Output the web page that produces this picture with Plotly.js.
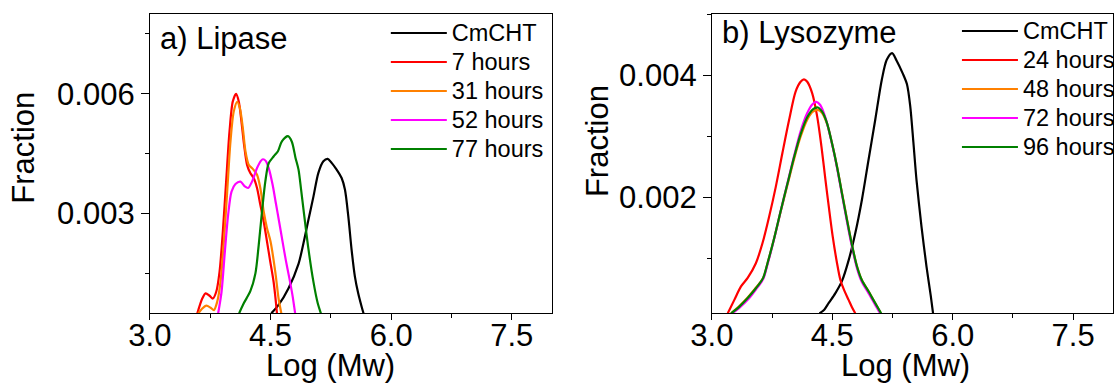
<!DOCTYPE html>
<html>
<head>
<meta charset="utf-8">
<script src="https://cdn.plot.ly/plotly-3.0.1.min.js"></script>
<style>html,body{margin:0;padding:0;background:#fff;}#chart{width:1120px;height:383px;}</style>
</head>
<body>
<div id="chart"></div>
<script>
// ---------- Panel a) Lipase ----------
var lipCmX = [4.51, 4.6, 4.724, 4.848, 4.91, 4.972, 5.034, 5.095, 5.157, 5.211, 5.26, 5.322, 5.384, 5.425, 5.467, 5.508, 5.549, 5.59, 5.632, 5.656];
var lipCmY = [0.0005, 0.00071, 0.00113, 0.00174, 0.00226, 0.00285, 0.00343, 0.00402, 0.00431, 0.00437, 0.00427, 0.0041, 0.00389, 0.0036, 0.00293, 0.00209, 0.00142, 0.001, 0.00067, 0.0005];

var lip7X = [3.59, 3.651, 3.693, 3.742, 3.783, 3.825, 3.866, 3.907, 3.948, 3.99, 4.031, 4.072, 4.105, 4.138, 4.171, 4.208, 4.25, 4.291, 4.332, 4.373, 4.415, 4.456, 4.497, 4.538, 4.562, 4.58];
var lip7Y = [0.0005, 0.00087, 0.001, 0.00094, 0.00087, 0.00104, 0.00154, 0.00255, 0.0038, 0.00506, 0.00581, 0.006, 0.00581, 0.00531, 0.00472, 0.00422, 0.00401, 0.00389, 0.00364, 0.00322, 0.0028, 0.0023, 0.00179, 0.00129, 0.00087, 0.0005];

var lip31X = [3.602, 3.651, 3.701, 3.755, 3.796, 3.837, 3.878, 3.92, 3.961, 4.002, 4.043, 4.085, 4.118, 4.155, 4.188, 4.229, 4.279, 4.332, 4.373, 4.415, 4.456, 4.5, 4.559, 4.6, 4.634];
var lip31Y = [0.0005, 0.00062, 0.00069, 0.00064, 0.00058, 0.00079, 0.00129, 0.0023, 0.00355, 0.00481, 0.00556, 0.0058, 0.00565, 0.00515, 0.00456, 0.00422, 0.00412, 0.00397, 0.00364, 0.00305, 0.00263, 0.0023, 0.00154, 0.00087, 0.0005];

var lip52X = [3.849, 3.891, 3.932, 3.973, 4.015, 4.064, 4.126, 4.18, 4.221, 4.27, 4.332, 4.38, 4.406, 4.44, 4.48, 4.526, 4.567, 4.609, 4.65, 4.691, 4.732, 4.773, 4.806];
var lip52Y = [0.0005, 0.00104, 0.00204, 0.00297, 0.00355, 0.00374, 0.0038, 0.00368, 0.00364, 0.0038, 0.00414, 0.00432, 0.00436, 0.00432, 0.00412, 0.00372, 0.00325, 0.00277, 0.00229, 0.00182, 0.0014, 0.00095, 0.0005];

var lip77X = [4.11, 4.167, 4.25, 4.312, 4.353, 4.394, 4.435, 4.477, 4.538, 4.592, 4.641, 4.716, 4.765, 4.81, 4.848, 4.88, 4.91, 4.972, 5.034, 5.087, 5.126];
var lip77Y = [0.0005, 0.00075, 0.00106, 0.0015, 0.00221, 0.00305, 0.0038, 0.00426, 0.00443, 0.00456, 0.00481, 0.00494, 0.0048, 0.0044, 0.0041, 0.0036, 0.0031, 0.0021, 0.00128, 0.00075, 0.0005];

// ---------- Panel b) Lysozyme ----------
var lysCmX = [4.34, 4.4, 4.456, 4.539, 4.621, 4.704, 4.786, 4.869, 4.951, 5.034, 5.116, 5.178, 5.245, 5.3, 5.38, 5.43, 5.47, 5.51, 5.549, 5.611, 5.673, 5.727, 5.755];
var lysCmY = [0.0001, 0.00016, 0.00027, 0.00043, 0.00063, 0.00097, 0.00141, 0.00196, 0.00261, 0.00326, 0.00392, 0.00425, 0.00436, 0.00424, 0.00402, 0.00385, 0.0035, 0.0029, 0.00228, 0.00152, 0.00087, 0.00038, 0.0001];

var lys24X = [3.198, 3.28, 3.363, 3.446, 3.548, 3.631, 3.713, 3.796, 3.878, 3.961, 4.043, 4.105, 4.147, 4.188, 4.25, 4.312, 4.365, 4.415, 4.456, 4.505, 4.559, 4.6, 4.65, 4.703, 4.745, 4.786];
var lys24Y = [0.0001, 0.00032, 0.00054, 0.00068, 0.00092, 0.00125, 0.00168, 0.00217, 0.00272, 0.00326, 0.00373, 0.00389, 0.00393, 0.00389, 0.0037, 0.00332, 0.00283, 0.00228, 0.00185, 0.00136, 0.00092, 0.00065, 0.00047, 0.00032, 0.0002, 0.0001];

var lys48X = [3.239, 3.342, 3.446, 3.548, 3.639, 3.693, 3.776, 3.858, 3.941, 4.023, 4.105, 4.188, 4.258, 4.32, 4.373, 4.435, 4.497, 4.559, 4.621, 4.683, 4.745, 4.807, 4.869, 4.951, 5.033, 5.105];
var lys48Y = [0.0001, 0.00022, 0.00036, 0.00052, 0.00068, 0.00092, 0.00133, 0.00177, 0.0022, 0.00262, 0.00299, 0.00327, 0.0034, 0.00343, 0.00338, 0.0032, 0.00288, 0.0025, 0.00207, 0.00164, 0.00122, 0.00087, 0.00064, 0.00046, 0.00027, 0.0001];

var lys72X = [3.25, 3.342, 3.446, 3.548, 3.639, 3.693, 3.776, 3.858, 3.941, 4.023, 4.105, 4.188, 4.25, 4.3, 4.35, 4.42, 4.497, 4.559, 4.621, 4.683, 4.745, 4.807, 4.869, 4.951, 5.033, 5.095];
var lys72Y = [0.0001, 0.00019, 0.00032, 0.00049, 0.00066, 0.0009, 0.00132, 0.00178, 0.00223, 0.00267, 0.00308, 0.00338, 0.00352, 0.00356, 0.00351, 0.00328, 0.00287, 0.00248, 0.00204, 0.0016, 0.00119, 0.00084, 0.00061, 0.00043, 0.00024, 0.0001];

var lys96X = [3.239, 3.342, 3.446, 3.548, 3.639, 3.693, 3.776, 3.858, 3.941, 4.023, 4.105, 4.188, 4.258, 4.32, 4.373, 4.435, 4.497, 4.559, 4.621, 4.683, 4.745, 4.807, 4.869, 4.951, 5.033, 5.108];
var lys96Y = [0.0001, 0.00021, 0.00035, 0.00051, 0.00068, 0.00092, 0.00133, 0.00178, 0.00222, 0.00265, 0.00303, 0.00331, 0.00344, 0.00347, 0.0034, 0.00321, 0.00288, 0.0025, 0.00206, 0.00163, 0.00122, 0.00087, 0.00064, 0.00046, 0.00027, 0.0001];

// ---------- labels ----------
var lipNames = ['CmCHT', '7 hours', '31 hours', '52 hours', '77 hours'];
var lysNames = ['CmCHT', '24 hours', '48 hours', '72 hours', '96 hours'];
var seriesColors = ['#000000', '#ff0000', '#ff8000', '#ff00ff', '#008000'];
var xTickVals = [3.0, 4.5, 6.0, 7.5];
var lipYTicks = [0.003, 0.006];
var lysYTicks = [0.002, 0.004];

var FONT = 'Liberation Sans, Arial, sans-serif';
var W = 1120, H = 383;

function nm(s) { return '<span style="font-size:23.5px">' + s + '</span>'; }

var lipData = [[lipCmX, lipCmY], [lip7X, lip7Y], [lip31X, lip31Y], [lip52X, lip52Y], [lip77X, lip77Y]];
var lysData = [[lysCmX, lysCmY], [lys24X, lys24Y], [lys48X, lys48Y], [lys72X, lys72Y], [lys96X, lys96Y]];

var traces = [];
lipData.forEach(function (d, i) {
  traces.push({
    x: d[0], y: d[1], type: 'scatter', mode: 'lines', name: nm(lipNames[i]),
    line: {color: seriesColors[i], width: 2.2, shape: 'spline', smoothing: 0.8},
    xaxis: 'x', yaxis: 'y', legend: 'legend', hoverinfo: 'skip'
  });
});
lysData.forEach(function (d, i) {
  traces.push({
    x: d[0], y: d[1], type: 'scatter', mode: 'lines', name: nm(lysNames[i]),
    line: {color: seriesColors[i], width: 2.2, shape: 'spline', smoothing: 0.8},
    xaxis: 'x2', yaxis: 'y2', legend: 'legend2', hoverinfo: 'skip'
  });
});

var yDom = [(H - 313.3) / H, (H - 14) / H];

function xAxis(dom, anchor) {
  return {
    domain: dom, anchor: anchor, range: [3, 8], tickvals: xTickVals, tickformat: '.1f',
    ticks: 'outside', ticklen: 6, tickwidth: 1, tickcolor: '#000', ticklabelstandoff: -12,
    minor: {dtick: 0.75, tick0: 0, ticks: 'outside', ticklen: 4, tickwidth: 1, tickcolor: '#000'},
    showline: true, linecolor: '#000', linewidth: 1, mirror: true,
    showgrid: false, zeroline: false,
    tickfont: {family: FONT, size: 31, color: '#000'}, title: {text: ''}
  };
}
function yAxis(range, tickv, minorDt, anchor) {
  return {
    domain: yDom, anchor: anchor, range: range, tickvals: tickv, tickformat: '.3f',
    ticks: 'outside', ticklen: 8, tickwidth: 1, tickcolor: '#000',
    minor: {dtick: minorDt, tick0: 0, ticks: 'outside', ticklen: 4, tickwidth: 1, tickcolor: '#000'},
    showline: true, linecolor: '#000', linewidth: 1, mirror: true,
    showgrid: false, zeroline: false,
    tickfont: {family: FONT, size: 31, color: '#000'}, title: {text: ''}
  };
}

function legendAt(px, py) {
  return {
    x: px / W, xanchor: 'left', y: 1 - py / H, yanchor: 'top',
    font: {family: FONT, size: 20, color: '#000'},
    bgcolor: 'rgba(0,0,0,0)', borderwidth: 0, itemwidth: 56,
    tracegroupgap: 0, traceorder: 'normal'
  };
}

function ann(text, px, py, size, xa, angle) {
  return {
    text: text, x: px / W, y: 1 - py / H, xref: 'paper', yref: 'paper',
    xanchor: xa || 'center', yanchor: 'middle', showarrow: false,
    textangle: angle || 0, borderpad: 0, borderwidth: 0,
    font: {family: FONT, size: size, color: '#000'}
  };
}

var layout = {
  width: W, height: H, autosize: false,
  margin: {l: 0, r: 0, t: 0, b: 0, pad: 0},
  paper_bgcolor: '#fff', plot_bgcolor: '#fff',
  showlegend: true,
  xaxis: xAxis([150.7 / W, 555 / W], 'y'),
  yaxis: yAxis([0.0005, 0.008], lipYTicks, 0.0015, 'x'),
  xaxis2: xAxis([715.7 / W, 1119.3 / W], 'y2'),
  yaxis2: yAxis([0.0001, 0.005], lysYTicks, 0.001, 'x2'),
  yaxis3: {
    overlaying: 'y', side: 'right', anchor: 'x', range: [0, 10], dtick: 1,
    ticks: 'outside', ticklen: 3, tickwidth: 1, tickcolor: '#000',
    showticklabels: false, showgrid: false, zeroline: false, showline: false
  },
  legend: legendAt(387.9, 13.5),
  legend2: legendAt(962.1, 11.5),
  annotations: [
    ann('a) Lipase', 160.7, 38, 31, 'left'),
    ann('b) Lysozyme', 726, 32.5, 31, 'left'),
    ann('Log (Mw)', 332.5, 365, 31),
    ann('Log (Mw)', 910.8, 365, 31),
    ann('Fraction', 23.3, 147.5, 31, 'center', -90),
    ann('Fraction', 601, 141.3, 31, 'center', -90)
  ]
};

Plotly.newPlot('chart', traces, layout, {staticPlot: true, displayModeBar: false});
</script>
</body>
</html>
